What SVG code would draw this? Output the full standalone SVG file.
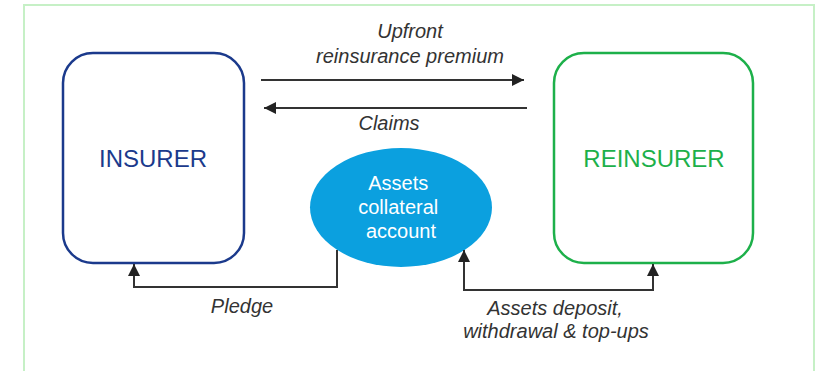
<svg xmlns="http://www.w3.org/2000/svg" width="821" height="371" viewBox="0 0 821 371">
<style>
.lbl{font-family:"Liberation Sans",Arial,sans-serif;font-style:italic;font-size:20px;fill:#333;text-anchor:middle}
.conn{fill:none;stroke:#333;stroke-width:2}
.ttl{font-family:"Liberation Sans",Arial,sans-serif;font-size:24px;text-anchor:middle}
</style>
<defs>
<marker id="ah" viewBox="0 0 10 10" refX="10" refY="5" markerWidth="6" markerHeight="6" orient="auto-start-reverse" markerUnits="strokeWidth">
<path d="M0,0 L10,5 L0,10 z" fill="#222"/>
</marker>
</defs>
<rect width="821" height="371" fill="#fff"/>
<rect x="24" y="5" width="790" height="400" fill="none" stroke="#c6f0c6" stroke-width="2"/>
<g id="insurer">
<rect x="63" y="53" width="181" height="210" rx="30" fill="#fff" stroke="#1b3a8c" stroke-width="2.5"/>
<text x="153" y="167" class="ttl" fill="#1b3a8c">INSURER</text>
</g>
<g id="reinsurer">
<rect x="554" y="53" width="199" height="210" rx="30" fill="#fff" stroke="#1db04a" stroke-width="2.5"/>
<text x="654" y="167" class="ttl" fill="#1db04a">REINSURER</text>
</g>
<g id="collateral">
<ellipse cx="401" cy="207.5" rx="91" ry="59.5" fill="#0ba0df"/>
<text font-family="'Liberation Sans',Arial,sans-serif" font-size="20" fill="#fff" text-anchor="middle">
<tspan x="401" y="190">Assets</tspan>
<tspan x="401" y="214">collateral</tspan>
<tspan x="401" y="238">account</tspan>
</text>
</g>
<g id="connectors">
<line x1="261" y1="80" x2="524" y2="80" class="conn" marker-end="url(#ah)"/>
<line x1="527" y1="108" x2="264" y2="108" class="conn" marker-end="url(#ah)"/>
<polyline points="337,250 337,287 134,287 134,264" class="conn" marker-end="url(#ah)"/>
<polyline points="464,250 464,290 653,290 653,264" class="conn" marker-start="url(#ah)" marker-end="url(#ah)"/>
<text x="410" y="38" class="lbl">Upfront</text>
<text x="410" y="63" class="lbl">reinsurance premium</text>
<text x="389" y="130" class="lbl">Claims</text>
<text x="242" y="313" class="lbl">Pledge</text>
<text x="555" y="315" class="lbl">Assets deposit,</text>
<text x="556" y="338" class="lbl">withdrawal &amp; top-ups</text>
</g>
</svg>
